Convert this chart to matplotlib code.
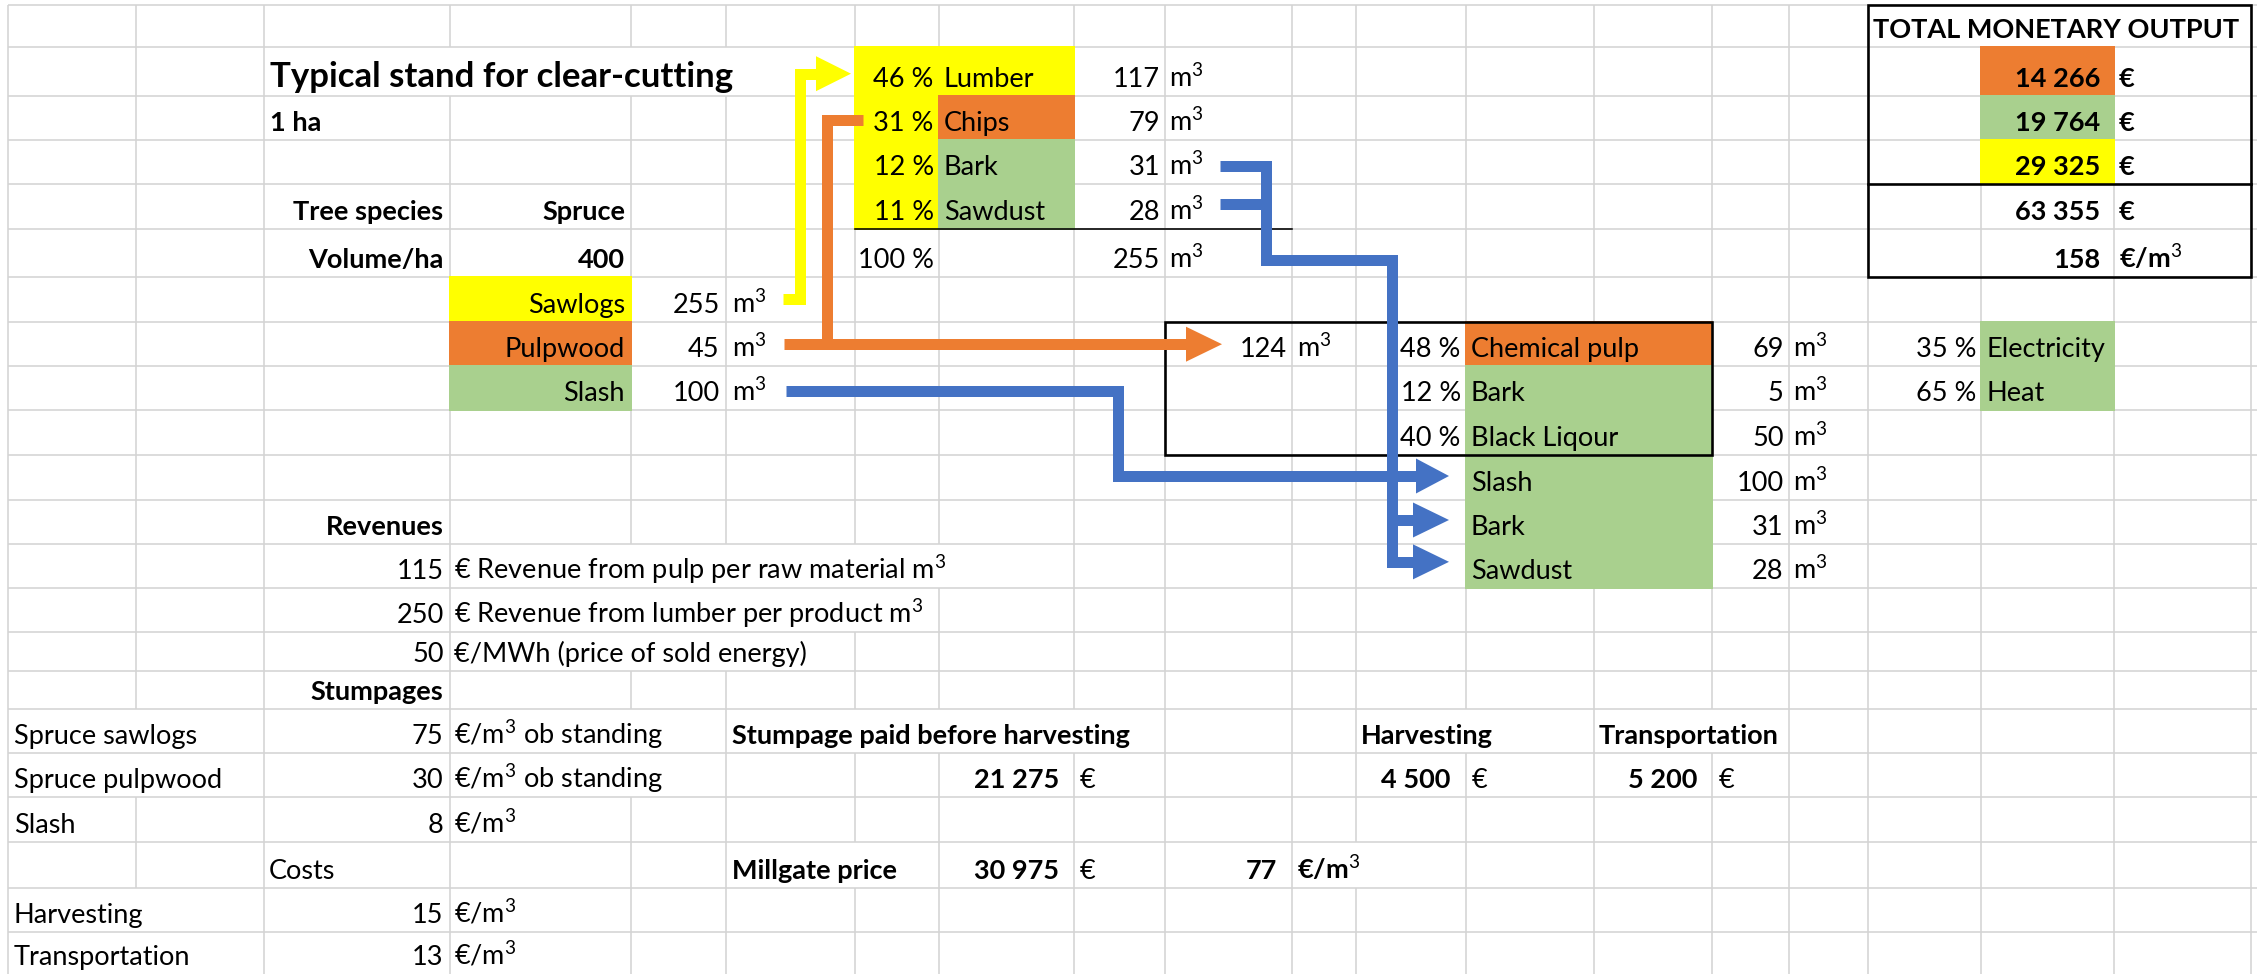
import matplotlib
matplotlib.use("Agg")
import matplotlib.pyplot as plt
from matplotlib.collections import LineCollection
from matplotlib.patches import Rectangle, Polygon

plt.rcParams["font.family"] = ["Lato", "DejaVu Sans"]
plt.rcParams["mathtext.fontset"] = "custom"
plt.rcParams["mathtext.rm"] = "Lato"
plt.rcParams["mathtext.it"] = "Lato:italic"
plt.rcParams["mathtext.bf"] = "Lato:bold"

# ---- sheet content -------------------------------------------------------
stand_title = "Typical stand for clear-cutting"
area_label = "1 ha"
species = "Spruce"
volume_per_ha = 400

assortments = ["Sawlogs", "Pulpwood", "Slash"]
assortment_m3 = [255, 45, 100]

sawmill_products = ["Lumber", "Chips", "Bark", "Sawdust"]
sawmill_pct = [46, 31, 12, 11]
sawmill_m3 = [117, 79, 31, 28]
sawmill_total_pct = 100
sawmill_total_m3 = 255

pulp_input_m3 = 124
pulp_products = ["Chemical pulp", "Bark", "Black Liqour"]
pulp_pct = [48, 12, 40]
pulp_m3 = [69, 5, 50]

energy_inputs = ["Slash", "Bark", "Sawdust"]
energy_m3 = [100, 31, 28]
energy_split = ["Electricity", "Heat"]
energy_pct = [35, 65]

output_values = [14266, 19764, 29325]
output_total = 63355
output_per_m3 = 158

revenue_values = [115, 250, 50]
revenue_labels = ["€ Revenue from pulp per raw material m$^3$",
                  "€ Revenue from lumber per product m$^3$",
                  "€/MWh (price of sold energy)"]

stumpage_labels = ["Spruce sawlogs", "Spruce pulpwood", "Slash"]
stumpage_prices = [75, 30, 8]
stumpage_units = ["€/m$^3$ ob standing", "€/m$^3$ ob standing", "€/m$^3$"]

cost_labels = ["Harvesting", "Transportation"]
cost_prices = [15, 13]

stumpage_paid = 21275
harvesting_cost = 4500
transport_cost = 5200
millgate_price = 30975
millgate_per_m3 = 77

# ---- sheet geometry (pixel grid of the screenshot) -----------------------
X = [7.7, 136, 264, 449.5, 631, 725.5, 854.6, 938.8, 1074, 1164.8, 1292,
     1355.6, 1465.8, 1594, 1712.4, 1788.7, 1868.4, 1981.3, 2114, 2251]
Y = [5, 46.7, 95.7, 140, 184.3, 229, 276.7, 321.7, 365.7, 410, 455, 500, 544,
     587.7, 632.3, 670.7, 709, 752.7, 796.7, 841.7, 888.3, 931.7, 974]
W, H = 2257, 974

YELLOW = "#FFFF00"
ORANGE = "#ED7D31"
GREEN = "#A9D08E"
BLUE = "#4472C4"
GRID = "#D4D4D4"
PX = 0.72  # points per pixel at dpi 100
FS = 19.5

A, B, C, D, E, F, G, Hc, I, J, K, L, M, N, O, P, Q, R, S = range(19)


def fmt(v):
    return f"{v:,}".replace(",", " ")


fig = plt.figure(figsize=(W / 100, H / 100), dpi=100)
ax = fig.add_axes([0, 0, 1, 1])
ax.set_xlim(0, W)
ax.set_ylim(H, 0)
ax.axis("off")

overflow = []


def cell(r, c, s, ha="left", bold=False, pad=6, size=FS):
    x = X[c] + pad if ha == "left" else X[c + 1] - pad
    t = ax.text(x, Y[r + 1] - 9, s, ha=ha, va="baseline", fontsize=size,
                fontweight="bold" if bold else "normal", zorder=6)
    if ha == "left":
        overflow.append((r, t))
    return t


def fill(c0, c1, r0, r1, color):
    ax.add_patch(Rectangle((X[c0] - 1, Y[r0] - 1), X[c1 + 1] - X[c0] + 2,
                           Y[r1 + 1] - Y[r0] + 2, facecolor=color,
                           edgecolor="none", zorder=2))


def ym(r):
    return (Y[r] + Y[r + 1]) / 2


# ---- fills ---------------------------------------------------------------
for i, col in enumerate([YELLOW, ORANGE, GREEN]):
    fill(D, D, 6 + i, 6 + i, col)
fill(G, G, 1, 4, YELLOW)
fill(Hc, Hc, 1, 1, YELLOW)
fill(Hc, Hc, 2, 2, ORANGE)
fill(Hc, Hc, 3, 4, GREEN)
fill(M, N, 7, 7, ORANGE)
fill(M, N, 8, 12, GREEN)
fill(R, R, 7, 8, GREEN)
for i, col in enumerate([ORANGE, GREEN, YELLOW]):
    fill(R, R, 1 + i, 1 + i, col)

# ---- texts ---------------------------------------------------------------
cell(1, C, stand_title, bold=True, size=25)
cell(2, C, area_label, bold=True)
cell(4, C, "Tree species", ha="right", bold=True)
cell(4, D, species, ha="right", bold=True)
cell(5, C, "Volume/ha", ha="right", bold=True)
cell(5, D, str(volume_per_ha), ha="right", bold=True)

for i, (name, v) in enumerate(zip(assortments, assortment_m3)):
    cell(6 + i, D, name, ha="right")
    cell(6 + i, E, str(v), ha="right")
    cell(6 + i, F, "m$^3$")

for i in range(len(sawmill_products)):
    cell(1 + i, G, f"{sawmill_pct[i]} %", ha="right", pad=5)
    cell(1 + i, Hc, sawmill_products[i], pad=5)
    cell(1 + i, I, str(sawmill_m3[i]), ha="right", pad=5)
    cell(1 + i, J, "m$^3$", pad=4)
cell(5, G, f"{sawmill_total_pct} %", ha="right", pad=5)
cell(5, I, str(sawmill_total_m3), ha="right", pad=5)
cell(5, J, "m$^3$", pad=4)

cell(7, J, str(pulp_input_m3), ha="right", pad=5)
cell(7, K, "m$^3$", pad=5)
for i in range(len(pulp_products)):
    cell(7 + i, L, f"{pulp_pct[i]} %", ha="right", pad=5)
    cell(7 + i, M, pulp_products[i], pad=5)
    cell(7 + i, O, str(pulp_m3[i]), ha="right", pad=5)
    cell(7 + i, P, "m$^3$", pad=4)
for i in range(len(energy_inputs)):
    cell(10 + i, M, energy_inputs[i], pad=5)
    cell(10 + i, O, str(energy_m3[i]), ha="right", pad=5)
    cell(10 + i, P, "m$^3$", pad=4)
for i in range(len(energy_split)):
    cell(7 + i, Q, f"{energy_pct[i]} %", ha="right", pad=5)
    cell(7 + i, R, energy_split[i], pad=5)

cell(0, Q, "TOTAL MONETARY OUTPUT", bold=True, pad=5)
for i, v in enumerate(output_values + [output_total]):
    cell(1 + i, R, fmt(v), ha="right", bold=True, pad=14)
    cell(1 + i, S, "€", bold=True, pad=5)
cell(5, R, str(output_per_m3), ha="right", bold=True, pad=14)
cell(5, S, "€/m$^3$", bold=True, pad=5)

cell(11, C, "Revenues", ha="right", bold=True)
for i, (v, lab) in enumerate(zip(revenue_values, revenue_labels)):
    cell(12 + i, C, str(v), ha="right")
    cell(12 + i, D, lab, pad=5)

cell(15, C, "Stumpages", ha="right", bold=True)
for i in range(len(stumpage_labels)):
    cell(16 + i, A, stumpage_labels[i])
    cell(16 + i, C, str(stumpage_prices[i]), ha="right")
    cell(16 + i, D, stumpage_units[i], pad=5)
cell(19, C, "Costs", pad=5)
for i in range(len(cost_labels)):
    cell(20 + i, A, cost_labels[i])
    cell(20 + i, C, str(cost_prices[i]), ha="right")
    cell(20 + i, D, "€/m$^3$", pad=5)

cell(16, F, "Stumpage paid before harvesting", bold=True)
cell(17, Hc, fmt(stumpage_paid), ha="right", bold=True, pad=15)
cell(17, I, "€", pad=6)
cell(16, L, "Harvesting", bold=True, pad=5)
cell(17, L, fmt(harvesting_cost), ha="right", bold=True, pad=15)
cell(17, M, "€", pad=6)
cell(16, N, "Transportation", bold=True, pad=5)
cell(17, N, fmt(transport_cost), ha="right", bold=True, pad=15)
cell(17, O, "€", pad=6)
cell(19, F, "Millgate price", bold=True)
cell(19, Hc, fmt(millgate_price), ha="right", bold=True, pad=15)
cell(19, I, "€", pad=6)
cell(19, J, str(millgate_per_m3), ha="right", bold=True, pad=15)
cell(19, K, "€/m$^3$", bold=True, pad=5)

# ---- gridlines (hidden where left-aligned text spills over) --------------
renderer = fig.canvas.get_renderer()
inv = ax.transData.inverted()
hidden = set()
for r, t in overflow:
    bb = t.get_window_extent(renderer)
    x0 = inv.transform((bb.x0, 0))[0]
    x1 = inv.transform((bb.x1, 0))[0]
    for k, xe in enumerate(X):
        if x0 + 2 < xe < x1:
            hidden.add((r, k))

segs = [[(X[0], y), (W, y)] for y in Y[:-1]]
for r in range(len(Y) - 1):
    for k, xe in enumerate(X):
        if (r, k) not in hidden:
            segs.append([(xe, Y[r]), (xe, Y[r + 1])])
ax.add_collection(LineCollection(segs, colors=GRID, linewidths=1.6 * PX, zorder=1))

# ---- black borders -------------------------------------------------------
ax.plot([X[G], X[K]], [Y[5], Y[5]], color="black", lw=1.6 * PX, zorder=3)
ax.add_patch(Rectangle((X[J], Y[7]), X[O] - X[J], Y[10] - Y[7], fill=False,
                       edgecolor="black", lw=2.6 * PX, zorder=3))
ax.add_patch(Rectangle((X[Q], Y[0]), X[S + 1] - X[Q], Y[6] - Y[0], fill=False,
                       edgecolor="black", lw=2.6 * PX, zorder=3))
ax.plot([X[Q], X[S + 1]], [Y[4], Y[4]], color="black", lw=2.6 * PX, zorder=3)

# ---- flow arrows ---------------------------------------------------------
LW = 11 * PX


def line(pts, color):
    xs, ys = zip(*pts)
    ax.plot(xs, ys, color=color, lw=LW, solid_capstyle="butt",
            solid_joinstyle="miter", zorder=4)


def head(x, y, color, length=35, half=17.5):
    ax.add_patch(Polygon([(x, y - half), (x + length, y), (x, y + half)],
                         closed=True, facecolor=color, edgecolor="none", zorder=4))


# sawlogs -> sawmill
y_saw, y_lum = ym(6), ym(1) + 2.5
line([(783, y_saw), (800, y_saw), (800, y_lum), (816, y_lum)], YELLOW)
head(816, y_lum, YELLOW)

# pulpwood + chips -> pulp mill
y_pulp, y_chip = ym(7) + 0.5, ym(2) + 2.5
line([(784, y_pulp), (1186, y_pulp)], ORANGE)
line([(827, y_pulp), (827, y_chip), (863, y_chip)], ORANGE)
head(1186, y_pulp, ORANGE, length=36)

# slash -> energy
line([(786, ym(8) + 3), (1118, ym(8) + 3), (1118, ym(10) - 1.5), (1416, ym(10) - 1.5)], BLUE)
head(1416, ym(10) - 1.5, BLUE, length=33)

# bark + sawdust -> energy
y_bark, y_dust = ym(3) + 4.3, ym(4) - 2.6
line([(1220, y_bark), (1266, y_bark), (1266, 260), (1392, 260),
      (1392, ym(12) - 4), (1413, ym(12) - 4)], BLUE)
line([(1220, y_dust), (1266, y_dust)], BLUE)
line([(1392, ym(11) - 2), (1413, ym(11) - 2)], BLUE)
head(1413, ym(11) - 2, BLUE, length=36)
head(1413, ym(12) - 4, BLUE, length=36)

fig.savefig("out.png", dpi=100, facecolor="white")
